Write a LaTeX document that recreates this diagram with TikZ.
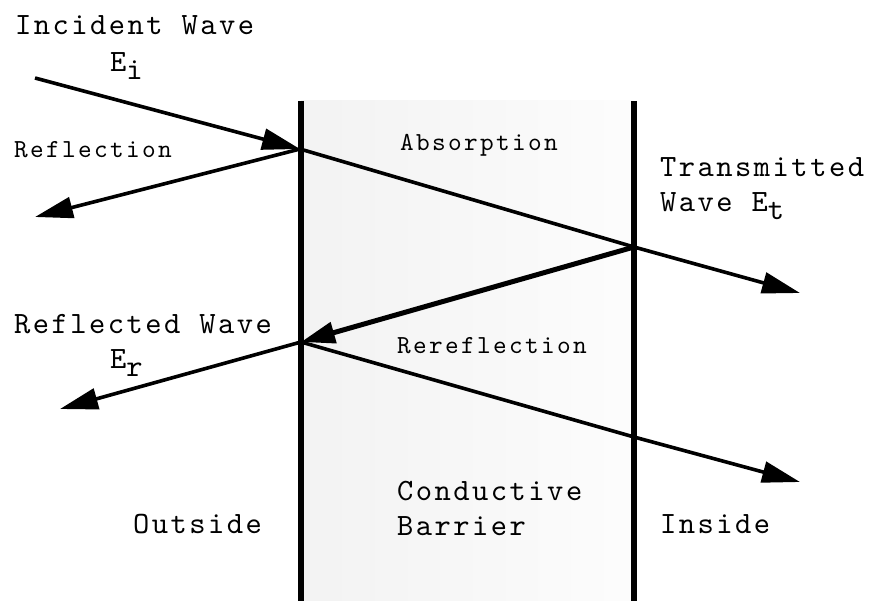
\documentclass[tikz,border=0pt]{standalone}
\usepackage{fontspec}
\newfontfamily\courbig{lmmono10-regular}[Extension=.otf, LetterSpace=8]
\newfontfamily\coursmall{lmmono10-regular}[Extension=.otf, LetterSpace=9]
\usetikzlibrary{arrows.meta}
\newcommand{\bigtxt}{\courbig\fontsize{31}{35}\selectfont}
\newcommand{\smalltxt}{\coursmall\fontsize{26}{30}\selectfont}
\newcommand{\subtxt}[1]{\raisebox{-8pt}{#1}}
\tikzset{
  wave/.style={line width=3.6pt, -{Triangle[length=38pt,width=21pt]}},
  plainwave/.style={line width=3.6pt},
  thickwave/.style={line width=5pt, -{Triangle[length=34pt,width=21pt]}},
  wall/.style={line width=5.5pt},
  lbl/.style={inner sep=0pt, anchor=base west, text=black},
}
\begin{document}
\begin{tikzpicture}[x=1pt,y=-1pt]
\useasboundingbox (0,0) rectangle (874,601);
% barrier region
\fill[left color=black!5, right color=black!1] (301,101) rectangle (634,601);
% key points
\coordinate (S) at (35,78);
\coordinate (P1) at (300,149);
\coordinate (R1) at (35,217);
\coordinate (P2) at (634,247);
\coordinate (T1) at (800,293);
\coordinate (P3) at (301,342);
\coordinate (R2) at (60,409);
\coordinate (P4) at (634,437);
\coordinate (T2) at (800,482);
\coordinate (LW1) at (301,101);
\coordinate (LW2) at (301,601);
\coordinate (RW1) at (634,101);
\coordinate (RW2) at (634,601);
% walls
\draw[wall] (LW1) -- (LW2);
\draw[wall] (RW1) -- (RW2);
% waves
\draw[wave] (S) -- (P1);
\draw[wave] (P1) -- (R1);
\draw[plainwave] (P1) -- (P2);
\draw[wave] (P2) -- (T1);
\draw[thickwave] (P2) -- (P3);
\draw[wave] (P3) -- (R2);
\draw[plainwave] (P3) -- (P4);
\draw[wave] (P4) -- (T2);
% labels
\node[lbl] (inc) at (15,35) {\bigtxt Incident Wave};
\node[lbl] (ei) at (110,72) {\bigtxt E\subtxt{i}};
\node[lbl] (refl) at (14,158) {\smalltxt Reflection};
\node[lbl] (abs) at (400,151) {\smalltxt Absorption};
\node[lbl] (tr) at (660,177) {\bigtxt Transmitted};
\node[lbl] (trw) at (660,212) {\bigtxt Wave E\subtxt{t}};
\node[lbl] (rw) at (14,333) {\bigtxt Reflected Wave};
\node[lbl] (er) at (110,368) {\bigtxt E\subtxt{r}};
\node[lbl] (rer) at (397,353) {\smalltxt Rereflection};
\node[lbl] (cond) at (397,500) {\bigtxt Conductive};
\node[lbl] (bar) at (397,535) {\bigtxt Barrier};
\node[lbl] (out) at (133,533) {\bigtxt Outside};
\node[lbl] (ins) at (660,533) {\bigtxt Inside};
\end{tikzpicture}
\end{document}
